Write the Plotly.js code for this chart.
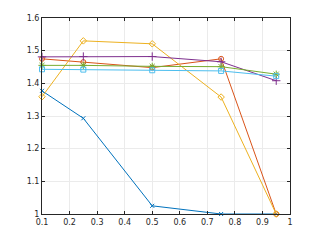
<!DOCTYPE html>
<html><head><meta charset="utf-8">
<script src="https://cdn.plot.ly/plotly-3.0.1.min.js"></script>
<style>html,body{margin:0;padding:0;background:#fff}#chart{width:321px;height:241px}</style>
</head><body><div id="chart"></div>
<script>
const xVals = [0.1, 0.25, 0.5, 0.75, 0.95];
const series1 = [1.377, 1.293, 1.025, 1.0, 1.0];
const series2 = [1.475, 1.465, 1.448, 1.475, 1.0];
const series3 = [1.359, 1.530, 1.521, 1.358, 1.0];
const series4 = [1.481, 1.482, 1.482, 1.466, 1.408];
const series5 = [1.455, 1.455, 1.452, 1.451, 1.428];
const series6 = [1.443, 1.442, 1.440, 1.438, 1.422];
const xTicks = [0.1,0.2,0.3,0.4,0.5,0.6,0.7,0.8,0.9,1];
const yTicks = [1,1.1,1.2,1.3,1.4,1.5,1.6];

const colors = ['#0072BD','#D95319','#EDB120','#7E2F8E','#77AC30','#4DBEEE'];
const symbols = ['x-thin-open','circle-open','diamond-open','cross-thin-open','asterisk-open','square-open'];
const sizes = [4,5,5,6,6,5];
const all = [series1,series2,series3,series4,series5,series6];
const traces = all.map((y,i)=>({
  x: xVals, y: y, type:'scatter', mode:'lines+markers', cliponaxis:false,
  line:{color:colors[i], width:1},
  marker:{symbol:symbols[i], size:sizes[i], color:colors[i], line:{color:colors[i], width:1}},
  showlegend:false
}));
const axisCommon = {
  showline:true, mirror:'ticks', linecolor:'#262626', linewidth:1,
  ticks:'inside', ticklen:3, tickcolor:'#262626',
  showgrid:true, gridcolor:'#ebebeb', gridwidth:1, zeroline:false,
  tickfont:{family:'DejaVu Sans, Arial, sans-serif', size:8, color:'#262626'}
};
const layout = {
  width:321, height:241,
  margin:{l:42, r:31, t:18, b:27},
  paper_bgcolor:'#fff', plot_bgcolor:'#fff',
  xaxis: Object.assign({}, axisCommon, {range:[0.1,1], tickvals:xTicks, ticktext:xTicks.map(String)}),
  yaxis: Object.assign({}, axisCommon, {range:[1,1.6], tickvals:yTicks, ticktext:yTicks.map(String)})
};
Plotly.newPlot('chart', traces, layout, {staticPlot:true, displayModeBar:false});
</script></body></html>
